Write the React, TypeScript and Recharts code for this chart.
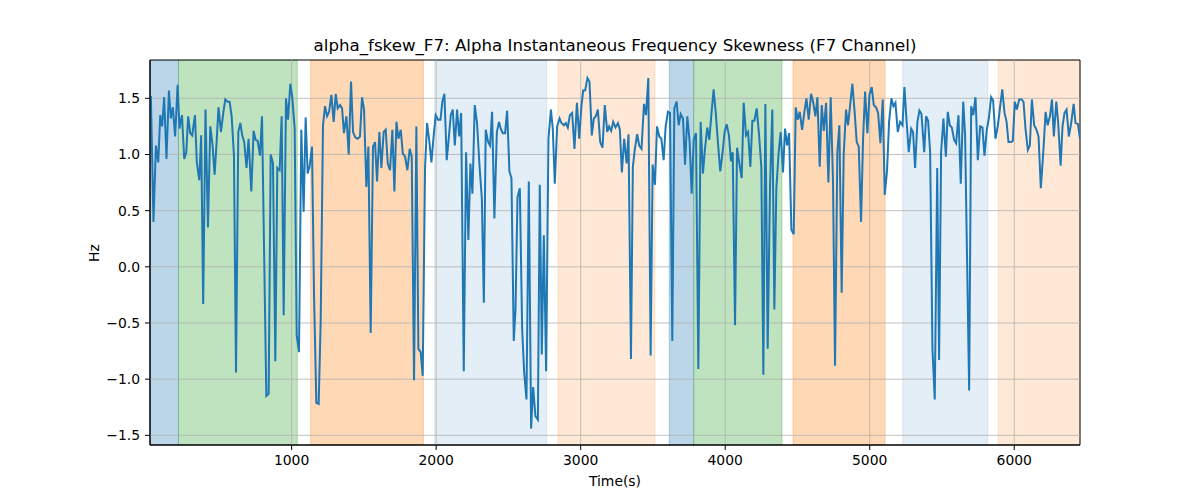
import { LineChart, Line, XAxis, YAxis, ReferenceArea, ReferenceLine } from 'recharts'

// time (s) / skewness (Hz) samples
const timesA = [
  26, 44, 61, 77, 91, 104, 118, 134, 151, 164,
  178, 194, 211, 224, 241, 257, 271, 284, 298, 312,
  331, 344, 361, 374, 388, 404, 421, 437, 453, 467,
  481, 494, 511, 527, 541, 557, 571, 585, 601, 615,
  631, 645, 658, 672, 688, 702, 721, 737, 751, 765,
  781, 795,
]
const valuesA = [
  1.52, 0.40, 1.08, 0.93, 1.35, 1.25, 1.51, 0.96, 1.57, 1.32,
  1.42, 1.16, 1.62, 1.23, 1.35, 0.96, 1.02, 1.34, 1.19, 1.17,
  1.35, 0.93, 0.77, 1.17, -0.33, 1.40, 0.35, 1.25, 1.08, 0.82,
  1.11, 1.42, 1.20, 1.37, 1.49, 1.47, 1.47, 1.34, 0.99, -0.94,
  1.20, 1.28, 1.17, 1.11, 0.88, 1.14, 0.67, 1.21, 1.13, 1.12,
  0.99, 1.34,
]

const timesB = [
  825, 841, 855, 871, 887, 901, 917, 931, 945, 961,
  975, 991, 1005, 1021, 1035, 1051, 1067, 1083, 1097, 1111,
  1125, 1141, 1155, 1171, 1187, 1201, 1217, 1231, 1245, 1259,
  1275, 1291, 1305, 1319, 1335, 1349, 1362, 1379, 1395, 1411,
  1425, 1441, 1457, 1473, 1487, 1501, 1517, 1531, 1547, 1563,
  1577, 1591, 1607, 1621,
]
const valuesB = [
  -1.15, -1.13, 1.00, 0.92, -0.84, 0.88, 0.86, 1.34, -0.43, 1.50,
  1.31, 1.63, 1.50, 1.23, -0.61, -0.76, 1.22, 0.49, 1.33, 0.83,
  0.90, 1.07, -0.25, -1.21, -1.22, -0.49, 1.26, 1.43, 1.34, 1.38,
  1.53, 1.29, 1.54, 1.41, 1.44, 1.41, 1.19, 1.34, 1.00, 1.65,
  1.20, 1.15, 1.14, 1.16, 1.51, 1.40, 0.71, 1.07, -0.59, 1.07,
  1.11, 0.76, 1.20, 0.88,
]

const timesC = [
  1637, 1651, 1665, 1681, 1697, 1711, 1725, 1739, 1755, 1769,
  1785, 1801, 1817, 1831, 1847, 1863, 1877, 1893, 1907, 1923,
  1937, 1951, 1967, 1983, 1997, 2013, 2030, 2043, 2057, 2073,
  2087, 2101, 2115, 2129, 2145, 2159, 2173, 2191, 2207, 2223,
  2237, 2251, 2267, 2283, 2300, 2316, 2330, 2343, 2360, 2373,
  2387, 2403, 2420, 2435,
]
const valuesC = [
  1.20, 1.22, 0.92, 0.86, 1.22, 0.67, 1.29, 1.14, 1.22, 1.01,
  0.98, 0.86, 1.05, 0.98, -1.01, 1.25, -0.73, -0.76, -0.97, 0.88,
  1.28, 1.14, 0.93, 1.17, 1.35, 1.31, 1.31, 1.47, 1.54, 0.95,
  1.14, 1.35, 1.40, 1.08, 1.40, 1.16, 1.37, -0.93, 1.02, 0.24,
  0.92, 0.65, 1.44, 1.28, 0.90, 0.61, -0.32, 1.22, 1.11, 1.08,
  1.38, 0.43, 1.20, 1.29,
]

const timesD = [
  2447, 2461, 2477, 2491, 2507, 2521, 2537, 2549, 2563, 2579,
  2595, 2609, 2625, 2641, 2657, 2671, 2687, 2704, 2717, 2731,
  2745, 2761, 2777, 2794, 2807, 2821, 2837, 2854, 2867, 2884,
  2897, 2911, 2925, 2941, 2957, 2974, 2990, 3004, 3017, 3031,
  3047, 3061, 3077, 3091, 3105, 3119, 3135, 3151, 3167, 3184,
  3197, 3211, 3225, 3241,
]
const valuesD = [
  1.23, 1.19, 1.19, 1.39, 0.85, 0.79, -0.66, -0.38, 0.62, 0.70,
  -0.55, -0.94, -1.18, 0.76, -1.44, -1.07, -1.33, -1.36, 0.73, -0.78,
  0.28, -0.93, 1.14, 1.40, 1.23, 0.74, 1.25, 1.32, 1.28, 1.26,
  1.28, 1.24, 1.35, 1.37, 1.05, 1.46, 1.14, 1.41, 1.57, 1.57,
  1.68, 1.65, 1.17, 1.32, 1.34, 1.40, 1.11, 1.06, 1.44, 1.20,
  1.25, 1.21, 1.29, 1.24,
]

const timesE = [
  3258, 3271, 3285, 3301, 3318, 3331, 3348, 3361, 3375, 3391,
  3405, 3421, 3438, 3452, 3468, 3484, 3498, 3514, 3528, 3544,
  3558, 3574, 3588, 3604, 3618, 3634, 3648, 3664, 3678, 3692,
  3708, 3722, 3738, 3754, 3768, 3782, 3798, 3814, 3830, 3846,
  3860, 3876, 3890, 3906, 3920, 3936, 3950, 3966, 3982, 3996,
  4010, 4026, 4040, 4052,
]
const valuesE = [
  1.28, 1.22, 0.84, 1.14, 0.92, 1.18, -0.82, 0.89, 1.05, 1.18,
  1.08, 1.05, 1.45, 1.35, 1.68, -0.79, 0.91, 0.73, 1.25, 1.16,
  1.14, 0.95, 1.25, 1.38, 1.37, -0.66, 1.41, 1.47, 1.26, 1.36,
  1.32, 0.91, 1.34, 1.11, 0.65, 1.13, 1.19, -0.91, 1.29, 0.83,
  1.05, 1.24, 1.13, 1.38, 1.58, 1.35, 1.10, 0.85, 1.02, 1.20,
  1.27, 1.17, 0.94, 1.02,
]

const timesF = [
  4068, 4082, 4098, 4114, 4128, 4144, 4158, 4174, 4188, 4202,
  4218, 4234, 4250, 4264, 4278, 4294, 4310, 4326, 4340, 4354,
  4370, 4384, 4400, 4414, 4428, 4442, 4458, 4474, 4488, 4502,
  4516, 4532, 4548, 4562, 4578, 4594, 4608, 4624, 4638, 4654,
  4668, 4682, 4698, 4714, 4730, 4746, 4760, 4776, 4790, 4806,
  4820, 4836, 4850,
]
const valuesF = [
  -0.52, 1.06, 0.92, 0.79, 1.46, 1.17, 1.20, 0.89, 1.30, 1.30,
  1.41, 1.18, 0.89, -0.96, 1.45, -0.73, 0.70, 1.40, -0.38, 0.70,
  1.02, 1.20, 0.84, 1.23, 1.08, 1.19, 0.33, 0.29, 1.42, 1.31,
  1.38, 1.22, 1.38, 1.50, 1.31, 1.54, 1.47, 1.34, 1.51, 0.89,
  1.44, 1.21, 1.46, 0.75, 1.51, 0.76, -0.88, 1.02, 1.26, -0.23,
  1.00, 1.40, 1.26,
]

const timesG = [
  4880, 4896, 4910, 4924, 4940, 4954, 4968, 4984, 4998, 5014,
  5028, 5044, 5058, 5074, 5090, 5104, 5120, 5134, 5150, 5164,
  5178, 5194, 5210, 5227, 5240, 5257, 5270, 5287, 5300, 5314,
  5330, 5344, 5358, 5377, 5390, 5404, 5418, 5434, 5450, 5467,
  5480, 5494, 5510, 5527, 5540, 5554, 5568, 5584, 5598, 5614,
  5630, 5647, 5660,
]
const valuesG = [
  1.63, 1.37, 1.11, 1.07, 0.40, 1.14, 1.56, 1.19, 1.53, 1.60,
  1.44, 1.42, 1.37, 1.10, 1.49, 0.64, 0.86, 1.29, 1.50, 1.43,
  1.46, 1.20, 1.29, 1.26, 1.60, 1.26, 1.02, 1.23, 1.20, 0.88,
  1.29, 1.39, 1.36, 1.02, 1.34, 1.30, 1.02, -0.73, -1.18, 0.88,
  -0.83, 1.02, 1.32, 0.98, 1.38, 1.26, 1.24, 1.13, 1.10, 1.35,
  0.74, 1.47, 1.17,
]

const timesH = [
  5688, 5702, 5716, 5732, 5748, 5764, 5780, 5794, 5810, 5824,
  5840, 5854, 5870, 5887, 5900, 5917, 5933, 5947, 5960, 5977,
  5990, 6004, 6018, 6034, 6050, 6064, 6078, 6094, 6108, 6122,
  6138, 6154, 6168, 6184, 6201, 6217, 6231, 6247, 6261, 6274,
  6291, 6304, 6321, 6334, 6348, 6362, 6378, 6394, 6411, 6424,
  6441, 6455,
]
const valuesH = [
  -1.10, 1.43, 1.35, 1.51, 0.95, 1.25, 1.24, 0.99, 1.22, 1.32,
  1.51, 1.48, 1.14, 1.26, 1.40, 1.58, 1.37, 1.29, 1.11, 1.11,
  1.12, 1.47, 1.40, 1.49, 1.49, 1.47, 1.23, 1.04, 1.08, 1.49,
  1.26, 1.22, 1.16, 0.70, 1.02, 1.38, 1.26, 1.34, 1.49, 1.16,
  1.47, 1.28, 0.90, 1.25, 1.37, 1.40, 1.16, 1.28, 1.45, 1.28,
  1.27, 1.14,
]

// shaded segments (seconds)
const bandStarts = [20, 217, 1132, 1990, 2842, 3613, 3782, 4469, 5229, 5889]
const bandEnds = [217, 1039, 1912, 2765, 3514, 3782, 4393, 5106, 5817, 6455]
const bandKinds = ['blue', 'green', 'orange', 'paleBlue', 'paleOrange',
  'blue', 'green', 'orange', 'paleBlue', 'paleOrange']

const xTicks = [1000, 2000, 3000, 4000, 5000, 6000]
const yTicks = [-1.5, -1, -0.5, 0, 0.5, 1, 1.5]

const bandStyle: Record<string, { color: string; alpha: number }> = {
  blue: { color: '#1f77b4', alpha: 0.3 },
  green: { color: '#2ca02c', alpha: 0.3 },
  orange: { color: '#ff7f0e', alpha: 0.3 },
  paleBlue: { color: '#1f77b4', alpha: 0.12 },
  paleOrange: { color: '#ff7f0e', alpha: 0.17 },
}

const times = [...timesA, ...timesB, ...timesC, ...timesD, ...timesE, ...timesF, ...timesG, ...timesH]
const values = [...valuesA, ...valuesB, ...valuesC, ...valuesD, ...valuesE, ...valuesF, ...valuesG, ...valuesH]
const data = times.map((t, i) => ({ t, v: values[i] }))

const FONT = 'DejaVu Sans'
const X_DOMAIN: [number, number] = [20, 6455]
const Y_DOMAIN: [number, number] = [-1.586, 1.841]

const fmtY = (v: number) => v.toFixed(1).replace('-', '\u2212')

export default function App() {
  const tick = { fontSize: 13.9, fill: '#000', fontFamily: FONT }
  return (
    <div style={{ position: 'absolute', left: 0, top: 0, width: 1200, height: 500, background: '#fff', fontFamily: FONT }}>
      <div style={{
        position: 'absolute', left: 150, width: 930, top: 36, lineHeight: '20px',
        textAlign: 'center', fontSize: 16.67, color: '#000',
      }}>
        alpha_fskew_F7: Alpha Instantaneous Frequency Skewness (F7 Channel)
      </div>
      <div style={{
        position: 'absolute', left: 150, width: 930, top: 473, lineHeight: '16px',
        textAlign: 'center', fontSize: 13.9, color: '#000',
      }}>
        Time(s)
      </div>
      <div style={{
        position: 'absolute', left: 44, width: 100, top: 244.5, height: 16, lineHeight: '16px',
        textAlign: 'center', fontSize: 13.9, color: '#000', transform: 'rotate(-90deg)',
      }}>
        Hz
      </div>
      <LineChart
        width={1200}
        height={500}
        data={data}
        margin={{ top: 60, right: 120, bottom: 25, left: 90 }}
      >
        <XAxis
          dataKey="t"
          type="number"
          domain={X_DOMAIN}
          allowDataOverflow
          ticks={xTicks}
          tick={tick}
          tickSize={5}
          tickMargin={5}
          height={30}
          axisLine={{ stroke: '#000', strokeWidth: 1 }}
          tickLine={{ stroke: '#000' }}
        />
        <YAxis
          type="number"
          domain={Y_DOMAIN}
          allowDataOverflow
          ticks={yTicks}
          tickFormatter={fmtY}
          tick={tick}
          tickSize={5}
          tickMargin={5}
          width={60}
          axisLine={{ stroke: '#000', strokeWidth: 1 }}
          tickLine={{ stroke: '#000' }}
        />
        {bandStarts.map((s, i) => {
          const st = bandStyle[bandKinds[i]]
          return (
            <ReferenceArea
              key={`band-${i}`}
              x1={s}
              x2={bandEnds[i]}
              y1={Y_DOMAIN[0]}
              y2={Y_DOMAIN[1]}
              ifOverflow="hidden"
              fill={st.color}
              fillOpacity={st.alpha}
              stroke={st.color}
              strokeOpacity={st.alpha}
              strokeWidth={1}
            />
          )
        })}
        {xTicks.map((x) => (
          <ReferenceLine key={`gx-${x}`} x={x} stroke="#b0b0b0" strokeWidth={0.8} />
        ))}
        {yTicks.map((y) => (
          <ReferenceLine key={`gy-${y}`} y={y} stroke="#b0b0b0" strokeWidth={0.8} />
        ))}
        <Line
          type="linear"
          dataKey="v"
          stroke="#1f77b4"
          strokeWidth={2}
          dot={false}
          activeDot={false}
          isAnimationActive={false}
        />
        {/* axes frame */}
        <ReferenceArea
          x1={X_DOMAIN[0]}
          x2={X_DOMAIN[1]}
          y1={Y_DOMAIN[0]}
          y2={Y_DOMAIN[1]}
          fill="none"
          stroke="#000"
          strokeWidth={1}
        />
      </LineChart>
    </div>
  )
}
